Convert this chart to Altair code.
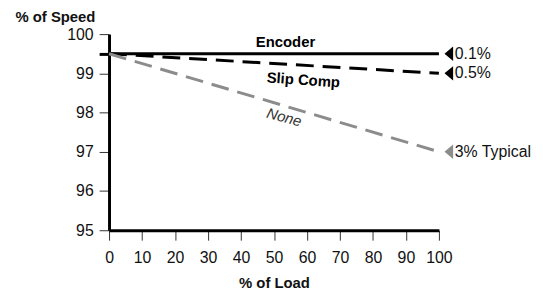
import altair as alt
import pandas as pd

FONT = "Liberation Sans, Arial"

# Data
load = [0, 100]
encoder = [99.5, 99.5]
slip_comp = [99.5, 99.0]
none = [99.5, 97.0]

series_names = ["Encoder", "Slip Comp", "None"]
series_values = [encoder, slip_comp, none]
series_colors = ["#000000", "#000000", "#8c8c8c"]
series_dash = [[1, 0], [18, 9], [18, 9]]

end_labels = ["0.1%", "0.5%", "3% Typical"]
end_values = [99.5, 99.0, 97.0]
end_colors = ["#000000", "#000000", "#8c8c8c"]
marker_x = 103.0
label_x = 104.8

ann_text = ["Encoder", "Slip Comp", "None"]
ann_x = [53.5, 58.9, 53.1]
ann_y = [99.79, 98.83, 97.88]
ann_angle = [0, 4, 15]
ann_weight = ["bold", "bold", "normal"]
ann_style = ["normal", "normal", "italic"]
ann_color = ["#000000", "#000000", "#333333"]

x_ticks = list(range(0, 101, 10))
y_ticks = [95, 96, 97, 98, 99, 99.5, 100]

xscale = alt.Scale(domain=[0, 100], nice=False, zero=False)
yscale = alt.Scale(domain=[95, 100], nice=False, zero=False)

x_axis = alt.Axis(values=x_ticks, title="% of Load", grid=False,
                  labelOverlap=False, labelFlush=False,
                  domainColor="#000", domainWidth=3,
                  tickColor="#333", tickWidth=1, tickSize=10,
                  labelFont=FONT, labelFontSize=16, labelColor="#111",
                  labelPadding=10,
                  titleFont=FONT, titleFontSize=15, titleFontWeight="bold",
                  titleColor="#111", titlePadding=10)
y_axis = alt.Axis(values=y_ticks, title="% of Speed", grid=False,
                  labelOverlap=False, labelFlush=False,
                  labelExpr="datum.value == 99.5 ? '' : datum.label",
                  domainColor="#000", domainWidth=3,
                  tickColor={"condition": {"test": "datum.value == 99.5", "value": "#000"}, "value": "#333"},
                  tickWidth={"condition": {"test": "datum.value == 99.5", "value": 3}, "value": 1},
                  tickSize=10,
                  labelFont=FONT, labelFontSize=16, labelColor="#111",
                  labelPadding=6,
                  titleFont=FONT, titleFontSize=15, titleFontWeight="bold",
                  titleColor="#111", titleAngle=0, titleAlign="left",
                  titleBaseline="middle", titleX=-95, titleY=-18)

layers = []
for name, vals, col, dash in zip(series_names, series_values, series_colors, series_dash):
    df = pd.DataFrame({"load": load, "speed": vals, "series": name})
    layers.append(
        alt.Chart(df).mark_line(color=col, strokeWidth=3, strokeDash=dash, clip=False).encode(
            x=alt.X("load:Q", scale=xscale, axis=x_axis),
            y=alt.Y("speed:Q", scale=yscale, axis=y_axis),
        )
    )

# end markers and labels
for lab, val, col in zip(end_labels, end_values, end_colors):
    mdf = pd.DataFrame({"x": [marker_x], "y": [val]})
    layers.append(
        alt.Chart(mdf).mark_point(shape="M0.6,-1L-0.6,0L0.6,1Z", filled=True, size=210,
                                  color=col, opacity=1, clip=False).encode(
            x=alt.X("x:Q", scale=xscale, axis=x_axis), y=alt.Y("y:Q", scale=yscale, axis=y_axis))
    )
    tdf = pd.DataFrame({"x": [label_x], "y": [val], "t": [lab]})
    layers.append(
        alt.Chart(tdf).mark_text(align="left", baseline="middle", font=FONT, fontSize=16,
                                 color="#111", clip=False).encode(
            x=alt.X("x:Q", scale=xscale, axis=x_axis), y=alt.Y("y:Q", scale=yscale, axis=y_axis),
            text="t:N")
    )

for t, xv, yv, ang, w, st, col in zip(ann_text, ann_x, ann_y, ann_angle, ann_weight, ann_style, ann_color):
    adf = pd.DataFrame({"x": [xv], "y": [yv], "t": [t]})
    layers.append(
        alt.Chart(adf).mark_text(align="center", baseline="middle", font=FONT, fontSize=15,
                                 fontWeight=w, fontStyle=st, angle=ang, color=col).encode(
            x=alt.X("x:Q", scale=xscale, axis=x_axis), y=alt.Y("y:Q", scale=yscale, axis=y_axis),
            text="t:N")
    )

chart = alt.layer(*layers).properties(
    width=333, height=198,
    padding={"left": 102, "top": 25, "right": 97, "bottom": 62},
    autosize=alt.AutoSizeParams(type="none"),
).configure_view(stroke=None).configure_axis(labelOverlap=False, labelFlush=False)

chart.save("out.html", embed_options={"renderer": "svg", "actions": False})
